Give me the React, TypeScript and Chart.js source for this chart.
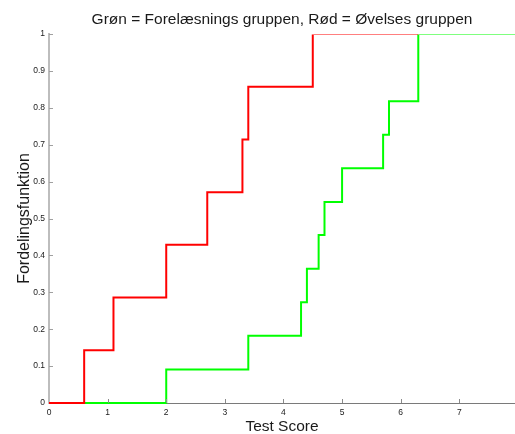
import React, { useEffect, useRef } from "react";
import { Chart, registerables } from "chart.js";

Chart.register(...registerables);

// Red group (Øvelses gruppen): jump positions and CDF levels
const redJumps = [0.6, 1.1, 2.0, 2.7, 3.3, 3.4, 4.5];
const redLevels = [0.143, 0.286, 0.429, 0.571, 0.714, 0.857, 1.0];
const redEnd = 6.3;

// Green group (Forelæsnings gruppen)
const greenJumps = [2.0, 3.4, 4.3, 4.4, 4.6, 4.7, 5.0, 5.7, 5.8, 6.3];
const greenLevels = [0.091, 0.182, 0.273, 0.364, 0.455, 0.545, 0.636, 0.727, 0.818, 1.0];

const xMin = 0;
const xMax = 7.95;
const xTicks = [0, 1, 2, 3, 4, 5, 6, 7];
const yTicks = [0, 0.1, 0.2, 0.3, 0.4, 0.5, 0.6, 0.7, 0.8, 0.9, 1];
const yTickLabels = ["0", "0.1", "0.2", "0.3", "0.4", "0.5", "0.6", "0.7", "0.8", "0.9", "1"];

const titleText = "Grøn = Forelæsnings gruppen, Rød = Øvelses gruppen";
const xTitle = "Test Score";
const yTitle = "Fordelingsfunktion";

function buildSteps(jumps: number[], levels: number[], end: number) {
  const pts: { x: number; y: number }[] = [{ x: xMin, y: 0 }];
  jumps.forEach((j, i) => pts.push({ x: j, y: levels[i] }));
  pts.push({ x: end, y: levels[levels.length - 1] });
  return pts;
}

const inwardTicks = {
  id: "inwardTicks",
  afterDraw(chart: any) {
    const ctx = chart.ctx;
    const xs = chart.scales.x;
    const ys = chart.scales.y;
    ctx.save();
    ctx.lineWidth = 1;
    ctx.strokeStyle = "#8a8a8a";
    ctx.beginPath();
    xs.ticks.forEach((t: any) => {
      if (t.value === 0) return;
      const px = Math.round(xs.getPixelForValue(t.value)) + 0.5;
      ctx.moveTo(px, xs.top);
      ctx.lineTo(px, xs.top - 4);
    });
    ctx.stroke();
    ctx.strokeStyle = "#a0a0a0";
    ctx.beginPath();
    ys.ticks.forEach((t: any) => {
      if (t.value === 0) return;
      const py = Math.round(ys.getPixelForValue(t.value)) + 0.5;
      ctx.moveTo(ys.right, py);
      ctx.lineTo(ys.right + 4, py);
    });
    ctx.stroke();
    ctx.restore();
  },
};

export default function App() {
  const ref = useRef<HTMLCanvasElement | null>(null);
  useEffect(() => {
    if (!ref.current) return;
    const chart = new Chart(ref.current, {
      type: "line",
      data: {
        datasets: [
          {
            label: "Rød",
            data: buildSteps(redJumps, redLevels, redEnd),
            borderColor: "#ff0000",
            borderWidth: 2,
            pointRadius: 0,
            stepped: "before",
            fill: false,
            clip: { left: 5, top: -0.5, right: 0, bottom: 5 } as any,
          },
          {
            label: "Grøn",
            data: buildSteps(greenJumps, greenLevels, xMax),
            borderColor: "#00ff00",
            borderWidth: 2,
            pointRadius: 0,
            stepped: "before",
            fill: false,
            clip: { left: 5, top: -0.5, right: 0, bottom: 5 } as any,
          },
        ],
      },
      options: {
        animation: false,
        responsive: false,
        layout: { padding: 0 },
        plugins: {
          legend: { display: false },
          tooltip: { enabled: false },
          title: {
            display: true,
            fullSize: false,
            text: titleText,
            color: "#1a1a1a",
            font: { family: "Liberation Sans", size: 15.5, weight: "normal", lineHeight: 1.2 },
            padding: { top: 10, bottom: 5.4 },
          },
        },
        scales: {
          x: {
            type: "linear",
            min: xMin,
            max: xMax,
            afterBuildTicks: (s: any) => {
              s.ticks = xTicks.map((v) => ({ value: v }));
            },
            afterFit: (s: any) => {
              s.height = 31;
            },
            ticks: {
              color: "#1a1a1a",
              font: { family: "Liberation Sans", size: 8.5 },
              padding: 5,
              maxRotation: 0,
              autoSkip: false,
              callback: (v: any) => String(v),
            },
            grid: { drawOnChartArea: false, drawTicks: false },
            border: { display: true, color: "#7a7a7a", width: 1 },
            title: {
              display: true,
              text: xTitle,
              color: "#1a1a1a",
              font: { family: "Liberation Sans", size: 15.5, lineHeight: 1 },
              padding: { top: 0, bottom: 0 },
            },
          },
          y: {
            type: "linear",
            min: 0,
            max: 1,
            afterBuildTicks: (s: any) => {
              s.ticks = yTicks.map((v) => ({ value: v }));
            },
            afterFit: (s: any) => {
              s.width = 49;
            },
            ticks: {
              color: "#1a1a1a",
              font: { family: "Liberation Sans", size: 8.5 },
              padding: 4,
              autoSkip: false,
              callback: (v: any) => {
                const i = yTicks.findIndex((t) => Math.abs(t - v) < 1e-9);
                return i >= 0 ? yTickLabels[i] : "";
              },
            },
            grid: { drawOnChartArea: false, drawTicks: false },
            border: { display: true, color: "#bdbdbd", width: 2 },
            title: {
              display: true,
              text: yTitle,
              color: "#1a1a1a",
              font: { family: "Liberation Sans", size: 16, lineHeight: 1 },
              padding: { top: 17, bottom: 0 },
            },
          },
        },
      },
      plugins: [inwardTicks],
    });
    return () => chart.destroy();
  }, []);
  return (
    <div style={{ position: "fixed", left: 0, top: 0, width: 515, height: 434, background: "#fff" }}>
      <canvas ref={ref} width={515} height={434} style={{ display: "block" }} />
    </div>
  );
}
